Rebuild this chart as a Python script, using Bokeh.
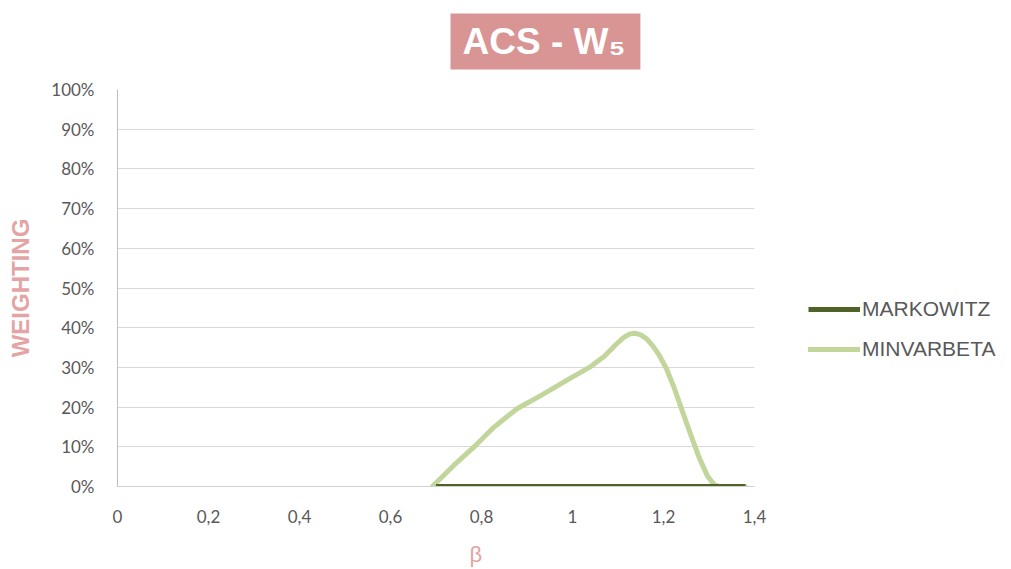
from bokeh.plotting import figure
from bokeh.models import (Range1d, FixedTicker, NumeralTickFormatter, CustomJSTickFormatter,
                          Legend, LegendItem, Title)
from bokeh.embed import file_html
from bokeh.resources import INLINE

# ---- data ----
markowitz_beta = [0.70, 1.38]
markowitz_w = [0.0, 0.0]

minvar_beta = [0.692, 0.739, 0.783, 0.827, 0.878, 0.930, 0.988, 1.040, 1.070, 1.095,
               1.112, 1.125, 1.137, 1.150, 1.163, 1.176, 1.190, 1.206, 1.223, 1.241,
               1.259, 1.278, 1.296, 1.311, 1.322, 1.38]
minvar_w = [0.0, 0.053, 0.099, 0.149, 0.196, 0.229, 0.268, 0.302, 0.328, 0.357,
            0.375, 0.384, 0.386, 0.382, 0.372, 0.355, 0.332, 0.298, 0.250, 0.191,
            0.133, 0.074, 0.028, 0.005, 0.0, 0.0]

x_ticks = [0, 0.2, 0.4, 0.6, 0.8, 1.0, 1.2, 1.4]
y_ticks = [0, 0.1, 0.2, 0.3, 0.4, 0.5, 0.6, 0.7, 0.8, 0.9, 1.0]

TICK_FONT = "Lato"
GRAY = "#595959"
ROSE = "#D99594"
ROSE_LABEL = "#E3A4A3"

p = figure(frame_width=637, frame_height=397, output_backend="svg", toolbar_location=None,
           x_range=Range1d(0, 1.4), y_range=Range1d(0, 1),
           min_border_left=117, min_border_right=257, min_border_top=89, min_border_bottom=83)
p.outline_line_color = None
p.background_fill_color = "white"
p.border_fill_color = "white"

r_min = p.line(minvar_beta, minvar_w, line_color="#C2D69B", line_width=5,
               line_join="round", line_cap="round")
r_mk = p.line(markowitz_beta, markowitz_w, line_color="#4F6228", line_width=5)

# grids
p.xgrid.grid_line_color = None
p.ygrid.grid_line_color = "#D9D9D9"
p.ygrid.grid_line_width = 1

# y axis
p.yaxis.ticker = FixedTicker(ticks=y_ticks)
p.yaxis.formatter = NumeralTickFormatter(format="0%")
p.yaxis.major_tick_line_color = None
p.yaxis.minor_tick_line_color = None
p.yaxis.axis_line_color = "#BFBFBF"
p.yaxis.major_label_text_font = TICK_FONT
p.yaxis.major_label_text_font_size = "17px"
p.yaxis.major_label_text_color = GRAY
p.yaxis.major_label_standoff = 17
p.yaxis.axis_label = "WEIGHTING"
p.yaxis.axis_label_text_font = "Liberation Sans"
p.yaxis.axis_label_text_font_style = "bold"
p.yaxis.axis_label_text_font_size = "24px"
p.yaxis.axis_label_text_color = ROSE_LABEL
p.yaxis.axis_label_standoff = 14

# x axis
p.xaxis.ticker = FixedTicker(ticks=x_ticks)
p.xaxis.formatter = CustomJSTickFormatter(
    code="return (Math.round(tick*10)/10).toString().replace('.', ',');")
p.xaxis.major_tick_line_color = None
p.xaxis.minor_tick_line_color = None
p.xaxis.axis_line_color = "#D0D0D0"
p.xaxis.major_label_text_font = TICK_FONT
p.xaxis.major_label_text_font_size = "17px"
p.xaxis.major_label_text_color = GRAY
p.xaxis.major_label_standoff = 17
p.xaxis.axis_label = "\u00a0" * 13 + "β"
p.xaxis.axis_label_text_font = "Liberation Sans"
p.xaxis.axis_label_text_font_style = "normal"
p.xaxis.axis_label_text_font_size = "22px"
p.xaxis.axis_label_text_color = ROSE_LABEL
p.xaxis.axis_label_standoff = 16

# legend in the right panel
legend = Legend(items=[LegendItem(label="MARKOWITZ", renderers=[r_mk]),
                       LegendItem(label="MINVARBETA", renderers=[r_min])],
                location=(54, 125), orientation="vertical",
                background_fill_alpha=0, border_line_color=None,
                padding=0, margin=0, spacing=16,
                glyph_height=20, glyph_width=52, label_height=20, label_standoff=2,
                label_text_font="Liberation Sans", label_text_font_size="21px",
                label_text_color=GRAY)
p.add_layout(legend, "right")

# spacer between the frame and the title
p.add_layout(Title(text=" ", text_font_size="1px", standoff=17), "above")

# title with rose background
p.title.text = "ACS - W\u2085"
p.title.text_font = "Liberation Sans"
p.title.text_font_style = "bold"
p.title.text_font_size = "37px"
p.title.text_color = "white"
p.title.background_fill_color = ROSE
p.title.align = "left"
p.title.offset = 333
p.title.standoff = 0
p.title.padding = dict(left=12, right=15, top=7, bottom=8)

open("out.html", "w").write(file_html(p, INLINE))
